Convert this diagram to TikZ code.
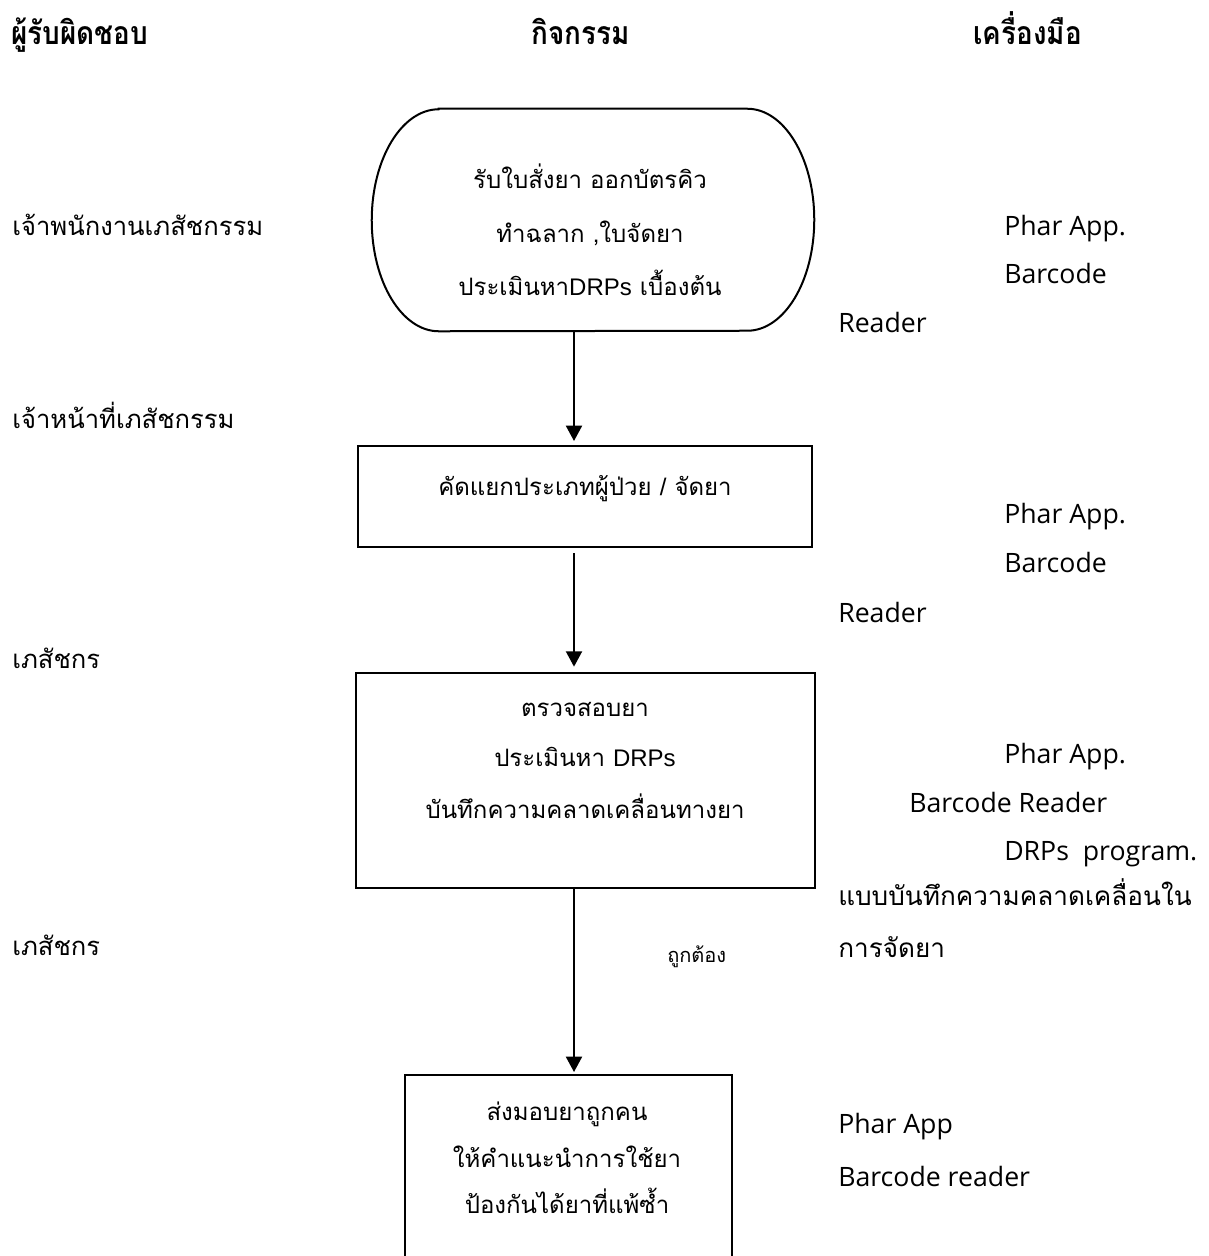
\documentclass[tikz,border=0pt]{standalone}
\usepackage{fontspec}
\usetikzlibrary{arrows.meta}
\newfontfamily\thaifont[Script=Thai]{Loma}
\newfontfamily\headfont[Script=Thai,FakeStretch=0.87]{Loma}
\newfontfamily\boxlatin{Liberation Sans}
\newfontfamily\sidefont{Open Sans}
\tikzset{
  ln/.style={line width=1.5pt},
  arr/.style={ln, -{Triangle[length=11.5pt,width=12pt]}},
  shapebox/.style={draw, ln, rectangle, inner sep=0pt},
  ghost/.style={rectangle, inner sep=0pt},
  boxtxt/.style={anchor=base, inner sep=0pt, font=\fontsize{18}{20}\selectfont\thaifont},
  lefttxt/.style={anchor=base west, inner sep=0pt, font=\fontsize{19.2}{21}\selectfont\thaifont},
  righttxt/.style={anchor=base west, inner sep=0pt, font=\fontsize{20}{22}\selectfont\sidefont},
  rightthai/.style={anchor=base west, inner sep=0pt, font=\fontsize{19.6}{21}\selectfont\thaifont},
  headtxt/.style={anchor=base west, inner sep=0pt, font=\fontsize{24}{26}\selectfont\headfont\bfseries},
  smalltxt/.style={anchor=base west, inner sep=0pt, font=\fontsize{15}{17}\selectfont\thaifont},
}
\begin{document}
\begin{tikzpicture}[x=0.75pt,y=-0.75pt]
\fill[white] (0,0) rectangle (1209,1256);
\clip (0,0) rectangle (1209,1256);

% headers
\node[headtxt] (h1) at (11,45) {ผู้รับผิดชอบ};
\node[headtxt] (h2) at (531,45) {กิจกรรม};
\node[headtxt] (h3) at (973,45) {เครื่องมือ};

% shapes
\node[ghost, minimum width=331.5pt, minimum height=166.5pt] (st) at (593,220) {};
\draw[ln] ([xshift=50.25pt]st.north west) -- ([xshift=-50.25pt]st.north east)
  arc[start angle=90, end angle=-90, x radius=50.25pt, y radius=83.25pt]
  -- ([xshift=50.25pt]st.south west)
  arc[start angle=270, end angle=90, x radius=50.25pt, y radius=83.25pt] -- cycle;
\node[shapebox, minimum width=340.5pt, minimum height=75.75pt] (b2) at (585,496.5) {};
\node[shapebox, minimum width=344.25pt, minimum height=161.25pt] (b3) at (585.5,780.5) {};
\node[shapebox, minimum width=245.25pt, minimum height=168.75pt] (b4) at (568.5,1187.5) {};

% box texts
\node[boxtxt] (t1a) at (590,188) {รับใบสั่งยา ออกบัตรคิว};
\node[boxtxt] (t1b) at (590,242) {ทำฉลาก ,ใบจัดยา};
\node[boxtxt] (t1c) at (590,295) {ประเมินหา{\boxlatin DRPs} เบื้องต้น};
\node[boxtxt] (t2a) at (585,495) {คัดแยกประเภทผู้ป่วย {\boxlatin /} จัดยา};
\node[boxtxt] (t3a) at (585,716) {ตรวจสอบยา};
\node[boxtxt] (t3b) at (585,766) {ประเมินหา {\boxlatin DRPs}};
\node[boxtxt] (t3c) at (585,818) {บันทึกความคลาดเคลื่อนทางยา};
\node[boxtxt] (t4a) at (567,1120) {ส่งมอบยาถูกคน};
\node[boxtxt] (t4b) at (567,1167) {ให้คำแนะนำการใช้ยา};
\node[boxtxt] (t4c) at (567,1213) {ป้องกันได้ยาที่แพ้ซ้ำ};

% connectors
\coordinate (ax) at (574,0);
\draw[arr] (st.south -| ax) -- ([yshift=3pt]b2.north -| ax);
\draw[arr] ([yshift=-4pt]b2.south -| ax) -- ([yshift=4pt]b3.north -| ax);
\draw[arr] (b3.south -| ax) -- ([yshift=1.5pt]b4.north -| ax);
\node[smalltxt] (ok) at (667,962) {ถูกต้อง};

% left column
\node[lefttxt] (l1) at (12,235) {เจ้าพนักงานเภสัชกรรม};
\node[lefttxt] (l2) at (12,428) {เจ้าหน้าที่เภสัชกรรม};
\node[lefttxt] (l3) at (12,668) {เภสัชกร};
\node[lefttxt] (l4) at (12,955) {เภสัชกร};

% right column
\node[righttxt] (r1a) at (1004,235) {Phar App.};
\node[righttxt] (r1b) at (1004,283) {Barcode};
\node[righttxt] (r1c) at (838,332) {Reader};
\node[righttxt] (r2a) at (1004,523) {Phar App.};
\node[righttxt] (r2b) at (1004,572) {Barcode};
\node[righttxt] (r2c) at (838,622) {Reader};
\node[righttxt] (r3a) at (1004,763) {Phar App.};
\node[righttxt] (r3b) at (909,812) {Barcode Reader};
\node[righttxt] (r3c) at (1004,860) {DRPs\ \ program.};
\node[rightthai] (r3d) at (838,905) {แบบบันทึกความคลาดเคลื่อนใน};
\node[rightthai] (r3e) at (838,957) {การจัดยา};
\node[righttxt] (r4a) at (838,1133) {Phar App};
\node[righttxt] (r4b) at (838,1186) {Barcode reader};
\end{tikzpicture}
\end{document}
